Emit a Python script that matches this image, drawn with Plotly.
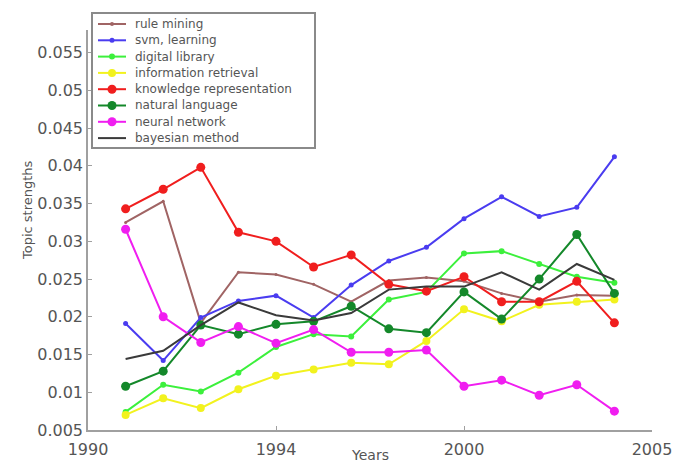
import plotly.graph_objects as go

years = list(range(1991, 2005))

rule_mining = [0.0325, 0.0353, 0.0192, 0.0259, 0.0256, 0.0243, 0.0220, 0.0248, 0.0252, 0.0247,
               0.0231, 0.0220, 0.0229, 0.0228]
svm_learning = [0.0191, 0.0142, 0.0199, 0.0221, 0.0228, 0.0199, 0.0242, 0.0274, 0.0292, 0.0330,
                0.0359, 0.0333, 0.0345, 0.0412]
digital_library = [0.0074, 0.0110, 0.0101, 0.0126, 0.0160, 0.0177, 0.0174, 0.0223, 0.0233, 0.0284,
                   0.0287, 0.0270, 0.0253, 0.0245]
information_retrieval = [0.0070, 0.0092, 0.0079, 0.0104, 0.0122, 0.0130, 0.0139, 0.0137, 0.0168, 0.0210,
                         0.0194, 0.0216, 0.0220, 0.0223]
knowledge_representation = [0.0343, 0.0369, 0.0398, 0.0312, 0.0300, 0.0266, 0.0282, 0.0243, 0.0234, 0.0253,
                            0.0220, 0.0220, 0.0247, 0.0192]
natural_language = [0.0108, 0.0128, 0.0189, 0.0177, 0.0190, 0.0194, 0.0214, 0.0184, 0.0179, 0.0233,
                    0.0197, 0.0250, 0.0309, 0.0231]
neural_network = [0.0316, 0.0200, 0.0166, 0.0187, 0.0165, 0.0183, 0.0153, 0.0153, 0.0156, 0.0108,
                  0.0116, 0.0096, 0.0110, 0.0075]
bayesian_method = [0.0144, 0.0155, 0.0189, 0.0219, 0.0202, 0.0195, 0.0205, 0.0236, 0.0240, 0.0240,
                   0.0259, 0.0236, 0.0270, 0.0249]

x_tick_vals = [1990, 1995, 2000, 2005]
x_tick_text = ["1990", "1994", "2000", "2005"]
y_tick_vals = [0.005, 0.01, 0.015, 0.02, 0.025, 0.03, 0.035, 0.04, 0.045, 0.05, 0.055]
y_tick_text = ["0.005", "0.01", "0.015", "0.02", "0.025", "0.03", "0.035", "0.04", "0.045", "0.05", "0.055"]

series = [
    ("rule mining", rule_mining, "#a06464", 3),
    ("svm, learning", svm_learning, "#4a3cf0", 5),
    ("digital library", digital_library, "#3cf03c", 6),
    ("information retrieval", information_retrieval, "#f2f21e", 8),
    ("knowledge representation", knowledge_representation, "#f01e1e", 9),
    ("natural language", natural_language, "#14882a", 9),
    ("neural network", neural_network, "#f01ef0", 9),
    ("bayesian method", bayesian_method, "#3a3a3a", 0),
]

W, H = 675, 462
ML, MR, MT, MB = 88, 23, 30, 32
PW, PH = W - ML - MR, H - MT - MB


def px(x):
    return (x - ML) / PW


def py(y):
    return (H - MB - y) / PH


fig = go.Figure()
for name, vals, color, msize in series:
    fig.add_trace(go.Scatter(
        x=years, y=vals, name=name,
        mode="lines+markers" if msize else "lines",
        line=dict(color=color, width=2),
        marker=dict(color=color, size=msize, symbol="circle"),
        showlegend=False,
    ))

# Compact boxed legend drawn in the upper-left corner
shapes = []
annotations = []
box_left, box_top, box_right, row0, row_step = 92, 13, 315, 24, 16.3
shapes.append(dict(type="rect", xref="paper", yref="paper",
                   x0=px(box_left), x1=px(box_right), y0=py(box_top + 135), y1=py(box_top),
                   line=dict(color="#8a8a8a", width=2), fillcolor="white", layer="above"))
for i, (name, vals, color, msize) in enumerate(series):
    yc = row0 + i * row_step
    shapes.append(dict(type="line", xref="paper", yref="paper",
                       x0=px(98), x1=px(126), y0=py(yc), y1=py(yc),
                       line=dict(color=color, width=2), layer="above"))
    if msize:
        r = max(msize, 4) / 2
        shapes.append(dict(type="circle", xref="paper", yref="paper",
                           x0=px(112 - r), x1=px(112 + r), y0=py(yc + r), y1=py(yc - r),
                           line=dict(color=color, width=0), fillcolor=color, layer="above"))
    annotations.append(dict(text=name, xref="paper", yref="paper", x=px(133), y=py(yc),
                            xanchor="left", yanchor="middle", showarrow=False,
                            font=dict(family="DejaVu Sans", size=12, color="#555555")))

# Axis titles
annotations.append(dict(text="Years", xref="paper", yref="paper", x=px(370), y=py(455),
                        xanchor="center", yanchor="middle", showarrow=False,
                        font=dict(family="DejaVu Sans", size=14, color="#555555")))
annotations.append(dict(text="Topic strengths", xref="paper", yref="paper", x=px(28), y=py(210),
                        xanchor="center", yanchor="middle", showarrow=False, textangle=-90,
                        font=dict(family="DejaVu Sans", size=13, color="#555555")))

tick_font = dict(family="DejaVu Sans", size=16, color="#555555")

fig.update_layout(
    width=W, height=H,
    margin=dict(l=ML, r=MR, t=MT, b=MB),
    paper_bgcolor="white", plot_bgcolor="white",
    showlegend=False,
    shapes=shapes, annotations=annotations,
    xaxis=dict(
        range=[1990, 2005], tickvals=x_tick_vals, ticktext=x_tick_text,
        showgrid=False, zeroline=False, showline=True, linecolor="#a0a0a0", linewidth=1.5,
        ticks="inside", ticklen=4, tickcolor="#a0a0a0",
        tickfont=tick_font, automargin=False, ticklabelstandoff=4,
    ),
    yaxis=dict(
        range=[0.005, 0.058], tickvals=y_tick_vals, ticktext=y_tick_text,
        showgrid=False, zeroline=False, showline=True, linecolor="#a0a0a0", linewidth=1.5,
        ticks="inside", ticklen=4, tickcolor="#a0a0a0",
        tickfont=tick_font, automargin=False,
    ),
)

fig.write_html("out.html")
